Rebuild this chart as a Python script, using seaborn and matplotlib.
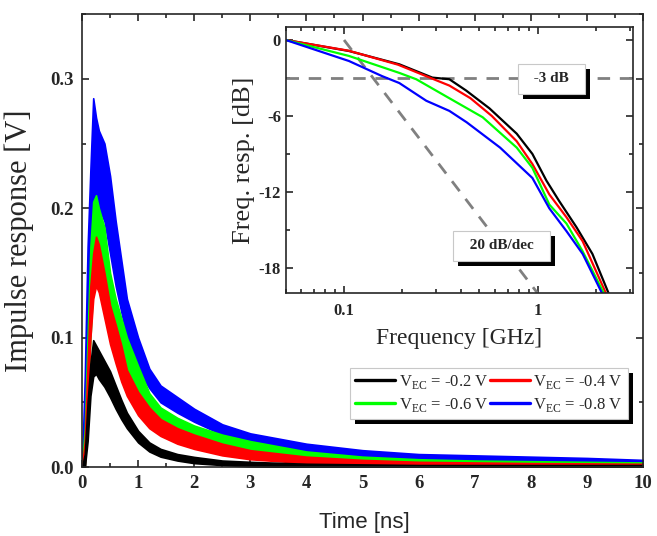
"""
Импульсный отклик и частотная характеристика (вставка)
для разных напряжений V_EC
"""
import pandas as pd
import seaborn as sns
import matplotlib.pyplot as plt
import matplotlib.patheffects as pe
from matplotlib.ticker import MultipleLocator, FixedLocator, FixedFormatter, NullFormatter

# --- Импульсный отклик: время и огибающие шумовых дорожек (верх / низ) ---
time_ns = [0, 0.05, 0.1, 0.15, 0.2, 0.25, 0.3, 0.4, 0.5, 0.6, 0.7, 0.8, 1.0,
           1.2, 1.4, 1.7, 2.0, 2.5, 3, 4, 5, 6, 7, 8, 9, 10]

imp_08_upper = [0, 0.07, 0.17, 0.23, 0.285, 0.27, 0.26, 0.25, 0.225, 0.19, 0.16, 0.13, 0.10,
                0.076, 0.063, 0.054, 0.045, 0.033, 0.026, 0.018, 0.013, 0.010, 0.009, 0.008, 0.007, 0.0055]
imp_08_lower = [0, 0, 0.08, 0.15, 0.19, 0.20, 0.20, 0.19, 0.165, 0.14, 0.12, 0.10, 0.075,
                0.061, 0.05, 0.042, 0.035, 0.025, 0.019, 0.012, 0.008, 0.006, 0.005, 0.004, 0.003, 0.002]
imp_06_upper = [0, 0.03, 0.10, 0.17, 0.205, 0.21, 0.20, 0.185, 0.15, 0.13, 0.115, 0.10, 0.078,
                0.057, 0.046, 0.038, 0.032, 0.025, 0.02, 0.012, 0.008, 0.006, 0.005, 0.0045, 0.004, 0.0035]
imp_06_lower = [0, 0, 0.05, 0.10, 0.14, 0.145, 0.14, 0.13, 0.115, 0.10, 0.085, 0.072, 0.055,
                0.043, 0.035, 0.028, 0.022, 0.016, 0.012, 0.007, 0.004, 0.003, 0.002, 0.0015, 0.001, 0.001]
imp_04_upper = [0, 0.02, 0.08, 0.14, 0.165, 0.178, 0.172, 0.15, 0.125, 0.11, 0.094, 0.075, 0.058,
                0.046, 0.037, 0.03, 0.025, 0.018, 0.013, 0.008, 0.0055, 0.004, 0.0035, 0.003, 0.0028, 0.0025]
imp_04_lower = [0, 0, 0.05, 0.10, 0.13, 0.14, 0.135, 0.115, 0.095, 0.08, 0.066, 0.055, 0.04,
                0.03, 0.024, 0.018, 0.014, 0.009, 0.006, 0.003, 0.001, 0, 0, 0, 0, 0]
imp_02_upper = [0, 0.01, 0.05, 0.08, 0.098, 0.094, 0.09, 0.082, 0.074, 0.063, 0.052, 0.042, 0.028,
                0.019, 0.014, 0.010, 0.0078, 0.005, 0.004, 0.0025, 0.002, 0.0015, 0.0015, 0.0015, 0.0015, 0.0015]
imp_02_lower = [0, 0, 0.02, 0.055, 0.07, 0.072, 0.068, 0.062, 0.054, 0.045, 0.037, 0.030, 0.019,
                0.012, 0.008, 0.005, 0.003, 0.0015, 0.0005, 0, 0, 0, 0, 0, 0, 0]

# --- Частотная характеристика (вставка) ---
freq_02 = [0.05, 0.106, 0.193, 0.286, 0.35, 0.428, 0.564, 0.78, 0.94, 1.11, 1.29, 1.59, 1.92, 2.37]
resp_02 = [0, -0.87, -1.92, -2.97, -3.1, -4.0, -5.4, -7.4, -9.0, -11.1, -12.7, -14.8, -16.9, -20.3]
freq_04 = [0.05, 0.106, 0.19, 0.28, 0.35, 0.45, 0.58, 0.78, 0.94, 1.15, 1.41, 1.71, 2.3]
resp_04 = [0, -0.85, -1.95, -3.0, -3.6, -4.6, -6.0, -8.0, -9.8, -12.2, -14.0, -15.9, -20.3]
freq_06 = [0.05, 0.106, 0.193, 0.236, 0.35, 0.52, 0.78, 0.94, 1.15, 1.41, 1.71, 2.25]
resp_06 = [0, -1.26, -2.6, -3.1, -4.6, -6.1, -8.5, -10.1, -13.0, -14.5, -16.7, -20.3]
freq_08 = [0.05, 0.106, 0.157, 0.193, 0.266, 0.35, 0.43, 0.64, 0.94, 1.15, 1.41, 1.71, 2.2]
resp_08 = [0, -1.66, -2.85, -3.4, -4.8, -5.6, -6.5, -8.5, -10.9, -13.3, -15.1, -16.9, -20.3]

# пунктирные ориентиры: -3 dB и 20 dB/dec
asym_freq = [0.1, 1.0]
asym_resp = [0, -20]

labels = ['V$_{\\rm EC}$ = -0.2 V', 'V$_{\\rm EC}$ = -0.4 V',
          'V$_{\\rm EC}$ = -0.6 V', 'V$_{\\rm EC}$ = -0.8 V']
colors = ['#000000', '#ff0000', '#00ff00', '#0000ff']

sns.set_style('ticks')
plt.rcParams['font.family'] = ['Liberation Serif', 'DejaVu Serif']
plt.rcParams['mathtext.fontset'] = 'custom'
plt.rcParams['mathtext.rm'] = 'Liberation Serif'
plt.rcParams['axes.unicode_minus'] = False
plt.rcParams['axes.linewidth'] = 1.2

fig = plt.figure(figsize=(6.57, 5.36), dpi=100)
ax = fig.add_axes([0.1248, 0.1287, 0.854, 0.845])

# Основной график: шумовые полосы рисуем снизу вверх (синяя позади, черная впереди)
bands = [(imp_08_lower, imp_08_upper, colors[3]),
         (imp_06_lower, imp_06_upper, colors[2]),
         (imp_04_lower, imp_04_upper, colors[1]),
         (imp_02_lower, imp_02_upper, colors[0])]
for lower, upper, c in bands:
    ax.fill_between(time_ns, lower, upper, color=c, edgecolor=c, lw=1.2)

ax.set_xlim(0, 10)
ax.set_ylim(0, 0.35)
ax.xaxis.set_major_locator(MultipleLocator(1))
ax.xaxis.set_minor_locator(MultipleLocator(0.5))
ax.yaxis.set_major_locator(FixedLocator([0, 0.1, 0.2, 0.3]))
ax.yaxis.set_major_formatter(FixedFormatter(['0.0', '0.1', '0.2', '0.3']))
ax.yaxis.set_minor_locator(MultipleLocator(0.05))
ax.tick_params(which='both', direction='in', top=True, right=True, width=1.2, labelsize=13.5)
ax.tick_params(which='major', length=5, pad=6)
ax.tick_params(which='minor', length=3)
for lab in ax.get_xticklabels() + ax.get_yticklabels():
    lab.set_fontweight('bold')

ax.set_xlabel('Time [ns]', family='Liberation Sans', fontsize=16)
ax.set_ylabel('Impulse response [V]', fontsize=22)
ax.xaxis.set_label_coords(0.503, -0.1)
ax.yaxis.set_label_coords(-0.086, 0.5)

# Вставка: частотная характеристика
ax_in = fig.add_axes([0.435, 0.453, 0.528, 0.496])
ax_in.set_facecolor('white')
curves = [(freq_02, resp_02), (freq_04, resp_04), (freq_06, resp_06), (freq_08, resp_08)]
for (f, r), c, name in zip(curves, colors, labels):
    df = pd.DataFrame({'freq': f, 'resp': r})
    sns.lineplot(data=df, x='freq', y='resp', color=c, lw=1.6, ax=ax_in,
                 label=name, legend=False, sort=False)
handles = ax_in.get_lines()[:4]

ax_in.axhline(-3, color='#808080', lw=2, dashes=(4.5, 3.5), zorder=1)
ax_in.plot(asym_freq, asym_resp, color='#808080', lw=2, dashes=(4.5, 3.5), zorder=1)

ax_in.set_xscale('log')
ax_in.set_xlim(0.05, 3.1)
ax_in.set_ylim(-20, 1)
ax_in.xaxis.set_major_locator(FixedLocator([0.1, 1]))
ax_in.xaxis.set_major_formatter(FixedFormatter(['0.1', '1']))
ax_in.xaxis.set_minor_locator(FixedLocator([0.05, 0.06, 0.07, 0.08, 0.09, 0.2, 0.3, 0.4,
                                            0.5, 0.6, 0.7, 0.8, 0.9, 2, 3]))
ax_in.xaxis.set_minor_formatter(NullFormatter())
ax_in.yaxis.set_major_locator(FixedLocator([0, -6, -12, -18]))
ax_in.yaxis.set_major_formatter(FixedFormatter(['0', '-6', '-12', '-18']))
ax_in.yaxis.set_minor_locator(MultipleLocator(3))
ax_in.tick_params(which='both', direction='in', top=True, right=True, width=1.2, labelsize=12)
ax_in.tick_params(which='major', length=5)
ax_in.tick_params(axis='x', which='major', pad=7)
ax_in.tick_params(which='minor', length=3)
for lab in ax_in.get_xticklabels() + ax_in.get_yticklabels():
    lab.set_fontweight('bold')

ax_in.set_xlabel('Frequency [GHz]', fontsize=17)
ax_in.set_ylabel('Freq. resp. [dB]', fontsize=19)
ax_in.xaxis.set_label_coords(0.5, -0.13)
ax_in.yaxis.set_label_coords(-0.089, 0.5)

# Подписи в рамках с тенью
shadow = [pe.SimplePatchShadow(offset=(3.6, -3.6), shadow_rgbFace='black', alpha=1.0), pe.Normal()]
for x, y, s in [(1.18, -3.08, '  -3 dB  '), (0.65, -16.26, '  20 dB/dec  ')]:
    t = ax_in.text(x, y, s, ha='center', va='center', fontsize=11, fontweight='bold',
                   bbox=dict(boxstyle='square,pad=0.55', fc='white', ec='#c8c8c8', lw=0.8),
                   zorder=5)
    t.get_bbox_patch().set_path_effects(shadow)

# Легенда (порядок по столбцам: -0.2, -0.6 | -0.4, -0.8)
order = [0, 2, 1, 3]
leg = fig.legend([handles[i] for i in order], [labels[i] for i in order], ncol=2,
                 loc='upper left', bbox_to_anchor=(0.533, 0.313), frameon=True,
                 fancybox=False, edgecolor='#c8c8c8', framealpha=1, fontsize=12,
                 handlelength=2.4, handletextpad=0.2, columnspacing=0.1,
                 borderpad=0.3, labelspacing=0.3, borderaxespad=0)
leg.get_frame().set_linewidth(0.8)
leg.get_frame().set_path_effects(shadow)
for h in leg.legend_handles:
    h.set_linewidth(2.4)

fig.savefig('out.png', dpi=100)
